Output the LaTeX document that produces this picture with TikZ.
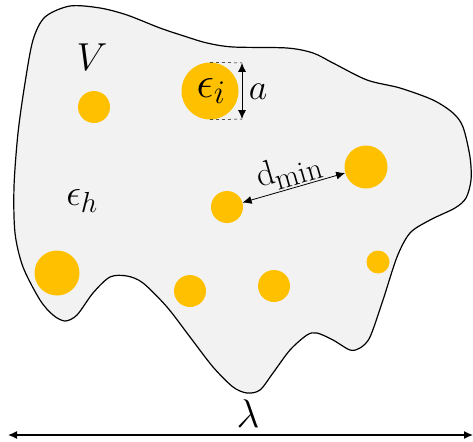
\RequirePackage{fix-cm}
\documentclass[tikz,border=0pt]{standalone}
\usetikzlibrary{arrows.meta}
\definecolor{gold}{HTML}{FFC000}
\definecolor{host}{HTML}{F2F2F2}
\tikzset{
  incl/.style={circle, fill=gold, inner sep=0pt},
  dim/.style={{Latex[length=9pt,width=8pt]}-{Latex[length=9pt,width=8pt]}, line width=0.8pt},
  lbl/.style={inner sep=0pt}
}
\newcommand{\fs}[1]{\fontsize{#1}{#1}\selectfont}
\begin{document}
\begin{tikzpicture}[x=1pt,y=-1pt]
\useasboundingbox (0,0) rectangle (473,441);
\draw[fill=host, line width=1.2pt] plot[smooth cycle, tension=0.5] coordinates {
 (70,6) (100,8) (127,15) (160,28) (187,37) (207,43) (233,47) (287,48) (313,53)
 (333,63) (367,80) (400,88) (433,100) (453,113) (463,127) (470,157) (471,180)
 (466,198) (455,208) (430,220) (410,233) (397,257) (383,300) (370,337) (360,348)
 (350,350) (333,340) (317,333) (307,335) (290,350) (273,373) (260,390) (247,393)
 (233,387) (213,367) (190,337) (167,307) (143,283) (127,276) (110,277) (93,293)
 (77,315) (65,321) (53,315) (40,300) (23,267) (15,233) (14,187) (18,133)
 (25,83) (33,40) (45,17)};
\node[incl, minimum size=57pt] (ci) at (210,91) {};
\node[lbl] (ei) at (211,91) {\fs{44}$\epsilon_{\mbox{\fs{33}$i$}}$};
\node[incl, minimum size=32pt] (c1) at (94,107) {};
\node[incl, minimum size=43pt] (c2) at (366,167) {};
\node[incl, minimum size=32pt] (c3) at (227,207) {};
\node[incl, minimum size=45pt] (c4) at (57,273) {};
\node[incl, minimum size=32pt] (c5) at (190,291) {};
\node[incl, minimum size=32pt] (c6) at (274,286) {};
\node[incl, minimum size=23pt] (c7) at (378,262) {};
\coordinate (at) at (242,63);
\coordinate (ab) at (242,119);
\draw[dashed, line width=0.5pt] (ci.north) -- (at);
\draw[dashed, line width=0.5pt] (ci.south) -- (ab);
\draw[dim] (at) -- (ab);
\node[lbl] (a) at (258,92) {\fs{36}$a$};
\draw[dim] (c3) -- node[sloped, above=1pt, lbl] (dl) {\fs{35}$\mathrm{d}_{\mbox{\fs{31}min}}$} (c2);
\node[lbl] (V) at (92,57) {\fs{39}$V$};
\node[lbl] (eh) at (82,201) {\fs{37}$\epsilon_{\mbox{\fs{29}$h$}}$};
\coordinate (l1) at (8,435);
\coordinate (l2) at (473,435);
\draw[dim, line width=1.3pt] (l1) -- (l2);
\node[lbl] (lam) at (248,414) {\fs{40}$\lambda$};
\end{tikzpicture}
\end{document}
